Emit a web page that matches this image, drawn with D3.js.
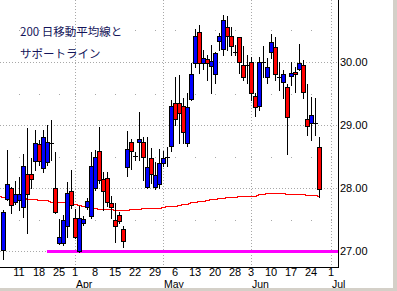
<!DOCTYPE html>
<html>
<head>
<meta charset="utf-8">
<script src="https://cdn.jsdelivr.net/npm/d3@7"></script>
<style>
body { margin: 0; background: #fff; }
svg { display: block; }
text { font-family: "Liberation Sans", Arial, sans-serif; font-size: 11px; }
</style>
</head>
<body>
<svg id="chart" width="397" height="291"></svg>
<script>

// trading days on the x axis (2002), first one only carries the average
var days = ["3/4","3/5","3/6","3/7","3/8","3/11","3/12","3/13","3/14","3/15","3/18","3/19","3/20","3/21","3/22","3/25","3/26","3/27","3/28",
    "4/1","4/2","4/3","4/4","4/5","4/8","4/9","4/10","4/11","4/12","4/15","4/16","4/17","4/18","4/19","4/22","4/23","4/24","4/25","4/26","4/29","4/30",
    "5/1","5/2","5/3","5/6","5/7","5/8","5/9","5/10","5/13","5/14","5/15","5/16","5/17","5/20","5/21","5/22","5/23","5/24","5/28","5/29","5/30","5/31",
    "6/3","6/4","6/5","6/6","6/7","6/10","6/11","6/12","6/13","6/14","6/17","6/18","6/19","6/20","6/21","6/24","6/25","6/26","6/27","6/28",
    "7/1","7/2"];

// candles start on 3/5
var firstCandle = "3/5";
var open  = [27.01,27.83,28.00,27.78,27.81,27.70,28.22,28.22,28.43,28.70,28.32,28.41,28.71,28.00,27.13,27.13,27.40,27.95,
    27.52,27.00,27.44,27.70,27.56,28.00,28.59,28.14,28.16,27.76,27.49,27.57,27.35,28.33,28.73,28.51,28.73,28.73,28.02,28.48,28.02,28.06,
    28.40,28.49,28.67,29.35,29.35,29.30,28.71,29.41,29.98,30.48,29.98,30.05,29.94,29.81,30.33,30.21,30.56,30.41,30.16,30.40,29.95,29.95,
    30.00,29.46,29.30,30.00,29.76,30.16,30.24,29.76,29.68,29.60,29.78,29.84,29.89,29.95,29.10,29.03,29.03,28.65];
var high  = [27.65,28.60,28.02,28.11,28.17,28.54,28.95,28.48,28.92,28.76,28.92,29.00,29.08,28.57,27.51,27.57,28.10,28.29,
    27.67,27.71,27.56,27.84,28.57,28.60,28.97,28.25,28.25,27.87,27.76,27.62,27.40,28.90,28.78,28.57,29.21,28.81,28.81,28.63,28.41,28.62,
    28.59,28.65,29.40,29.76,29.79,29.43,29.51,29.98,30.52,30.59,30.19,30.11,30.27,30.16,30.46,30.75,30.73,30.56,30.27,30.40,30.25,30.11,
    30.08,29.51,30.08,30.25,30.06,30.44,30.40,30.00,29.87,29.65,30.00,29.92,30.29,30.03,29.65,29.44,29.43,28.81];
var low   = [26.87,27.81,27.60,27.75,27.65,27.54,27.29,28.00,28.29,28.37,28.25,28.37,28.44,27.60,27.11,27.10,27.22,27.68,
    27.21,26.98,27.41,27.67,27.52,27.97,28.08,27.65,27.71,27.52,27.14,27.44,27.06,28.19,28.30,28.44,28.44,28.13,28.00,28.08,27.98,28.00,
    28.35,28.35,28.59,29.00,28.71,28.71,28.67,29.40,29.92,29.83,29.89,29.71,29.51,29.67,30.19,30.11,30.19,30.11,30.11,29.83,29.71,29.67,
    29.40,29.14,29.24,29.76,29.67,30.06,29.71,29.56,29.43,28.54,29.63,29.52,29.87,29.43,28.84,28.76,28.84,27.86];
var close = [27.62,28.06,27.73,27.90,27.90,28.35,27.90,28.14,28.71,28.43,28.81,28.73,28.71,27.62,27.22,27.49,27.92,27.73,
    27.22,27.52,27.51,27.79,28.35,28.49,28.13,27.95,27.78,27.70,27.40,27.48,27.16,28.62,28.59,28.51,28.78,28.49,28.33,28.22,28.21,28.40,
    28.48,28.49,29.30,29.10,29.19,28.89,29.29,29.81,30.41,29.98,30.06,29.98,30.02,30.14,30.41,30.67,30.41,30.25,30.16,30.00,29.76,29.95,
    29.51,29.29,30.00,30.00,29.92,30.32,29.81,29.76,29.81,29.13,29.83,29.81,29.98,29.52,28.98,29.16,29.03,27.98];

// 200 day moving average, from 3/4 to 6/26
var ma200 = [27.87,27.865,27.86,27.86,27.85,27.85,27.85,27.83,27.83,27.83,27.81,27.81,27.81,27.78,27.78,27.78,27.78,27.76,27.75,
    27.75,27.73,27.71,27.71,27.68,27.68,27.67,27.67,27.67,27.66,27.65,27.65,27.65,27.65,27.66,27.66,27.67,27.68,27.68,27.69,27.69,27.69,
    27.70,27.71,27.71,27.71,27.73,27.75,27.75,27.77,27.78,27.80,27.80,27.81,27.82,27.82,27.84,27.84,27.85,27.85,27.85,27.87,27.87,27.87,
    27.88,27.88,27.90,27.90,27.92,27.92,27.92,27.92,27.92,27.90,27.90,27.90,27.90,27.90,27.89,27.89,27.89,27.88];

var supportLevel = 27.00;
var supportFrom = "3/20";

var yTicks = [27, 28, 29, 30];
var yMinor = [27.5, 28.5, 29.5, 30.5];
var weekTicks = ["3/11","3/18","3/25","4/1","4/8","4/15","4/22","4/29","5/6","5/13","5/20","5/28","6/3","6/10","6/17","6/24","7/1"];
var monthStarts = ["4/1","5/1","6/3","7/1"];
var monthNames = ["Apr","May","Jun","Jul"];
var titleLines = ["200 日移動平均線と", "サポートライン"];

var svg = d3.select("#chart");
var plotRight = 338, plotBottom = 267;

var x = d3.scaleBand().domain(days).range([-3, 337]).paddingInner(0);
var y = d3.scaleLinear().domain([27, 30]).range([251, 62]);
function cx(d) { return Math.round(x(d) + x.bandwidth() / 2); }
function py(v) { return Math.round(y(v)); }

var grid = svg.append("g").attr("shape-rendering", "crispEdges");

// dotted grid
grid.selectAll(".hg").data(yTicks).enter().append("line")
    .attr("x1", 0).attr("x2", plotRight)
    .attr("y1", function(d) { return py(d) + 0.5; })
    .attr("y2", function(d) { return py(d) + 0.5; })
    .attr("stroke", "#a8a8a8").attr("stroke-dasharray", "1,2");

grid.selectAll(".vg").data(monthStarts).enter().append("line")
    .attr("x1", function(d) { return cx(d) + 0.5; })
    .attr("x2", function(d) { return cx(d) + 0.5; })
    .attr("y1", 0).attr("y2", plotBottom)
    .attr("stroke", "#a8a8a8").attr("stroke-dasharray", "1,2");

var dots = [];
weekTicks.forEach(function(w) { yMinor.forEach(function(v) { dots.push([w, v]); }); });
grid.selectAll(".dot").data(dots).enter().append("rect")
    .attr("x", function(d) { return cx(d[0]); })
    .attr("y", function(d) { return py(d[1]); })
    .attr("width", 1).attr("height", 1)
    .attr("fill", "#a8a8a8");

// support line
svg.append("line")
    .attr("x1", cx(supportFrom)).attr("x2", plotRight)
    .attr("y1", py(supportLevel) + 0.5).attr("y2", py(supportLevel) + 0.5)
    .attr("stroke", "#ff00ff").attr("stroke-width", 3)
    .attr("shape-rendering", "crispEdges");

// moving average
var maDays = days.slice(0, ma200.length);
var line = d3.line()
    .x(function(d, i) { return cx(maDays[i]) + 0.5; })
    .y(function(d) { return py(d) + 0.5; });
svg.append("path")
    .attr("d", line(ma200))
    .attr("fill", "none").attr("stroke", "#ff0000").attr("stroke-width", 1)
    .attr("shape-rendering", "crispEdges");

// candles
var start = days.indexOf(firstCandle);
var candles = open.map(function(o, i) {
    return { day: days[start + i], o: o, h: high[i], l: low[i], c: close[i] };
});

var cg = svg.append("g").attr("shape-rendering", "crispEdges");
var candle = cg.selectAll(".candle").data(candles).enter().append("g");

candle.append("line")
    .attr("x1", function(d) { return cx(d.day) + 0.5; })
    .attr("x2", function(d) { return cx(d.day) + 0.5; })
    .attr("y1", function(d) { return py(d.h); })
    .attr("y2", function(d) { return py(d.l) + 1; })
    .attr("stroke", "#000");

candle.each(function(d) {
    var g = d3.select(this);
    var top = py(Math.max(d.o, d.c)), bot = py(Math.min(d.o, d.c));
    var c = cx(d.day);
    if (bot - top < 1) {
        g.append("line")
            .attr("x1", c - 2).attr("x2", c + 3)
            .attr("y1", top + 0.5).attr("y2", top + 0.5)
            .attr("stroke", "#000");
    } else {
        g.append("rect")
            .attr("x", c - 1.5).attr("y", top + 0.5)
            .attr("width", 4).attr("height", bot - top)
            .attr("fill", d.c < d.o ? "#ff0000" : "#0000ff")
            .attr("stroke", "#000");
    }
});

// axes
svg.append("line")
    .attr("x1", plotRight + 0.5).attr("x2", plotRight + 0.5)
    .attr("y1", 0).attr("y2", plotBottom + 1)
    .attr("stroke", "#000").attr("shape-rendering", "crispEdges");
svg.append("line")
    .attr("x1", 0).attr("x2", plotRight + 1)
    .attr("y1", plotBottom + 0.5).attr("y2", plotBottom + 0.5)
    .attr("stroke", "#000").attr("shape-rendering", "crispEdges");

var yAxis = svg.append("g")
    .attr("transform", "translate(" + plotRight + ",0)")
    .call(d3.axisRight(y).tickValues(yTicks).tickSize(0).tickPadding(2).tickFormat(d3.format(".2f")));
yAxis.select(".domain").remove();
yAxis.selectAll("text").attr("font-size", 11).attr("font-family", null).attr("fill", "#000");

// day numbers under the axis, month names below them
var xAxis = svg.append("g")
    .attr("transform", "translate(0," + plotBottom + ")")
    .call(d3.axisBottom(x).tickValues(weekTicks).tickSize(0).tickPadding(0)
        .tickFormat(function(d) { return d.split("/")[1]; }));
xAxis.select(".domain").remove();
xAxis.selectAll("text")
    .attr("font-size", 10.5).attr("font-family", null).attr("fill", "#000")
    .attr("dy", null).attr("y", 8.5);

svg.selectAll(".month").data(monthStarts).enter().append("text")
    .attr("x", function(d) { return cx(d) + 1; })
    .attr("y", 287.5)
    .style("font-size", "10.5px")
    .text(function(d, i) { return monthNames[i]; });

// title
svg.selectAll(".title").data(titleLines).enter().append("text")
    .attr("x", 20)
    .attr("y", function(d, i) { return 36 + i * 22; })
    .style("font-family", "'Noto Sans CJK JP', sans-serif")
    .style("font-size", "11.5px")
    .attr("fill", "#14145a")
    .text(function(d) { return d; });

// window frame
svg.append("rect").attr("x", 393).attr("y", 0).attr("width", 4).attr("height", 291).attr("fill", "#d4d0c8");
svg.append("rect").attr("x", 0).attr("y", 288).attr("width", 397).attr("height", 3).attr("fill", "#d4d0c8");

</script>
</body>
</html>
